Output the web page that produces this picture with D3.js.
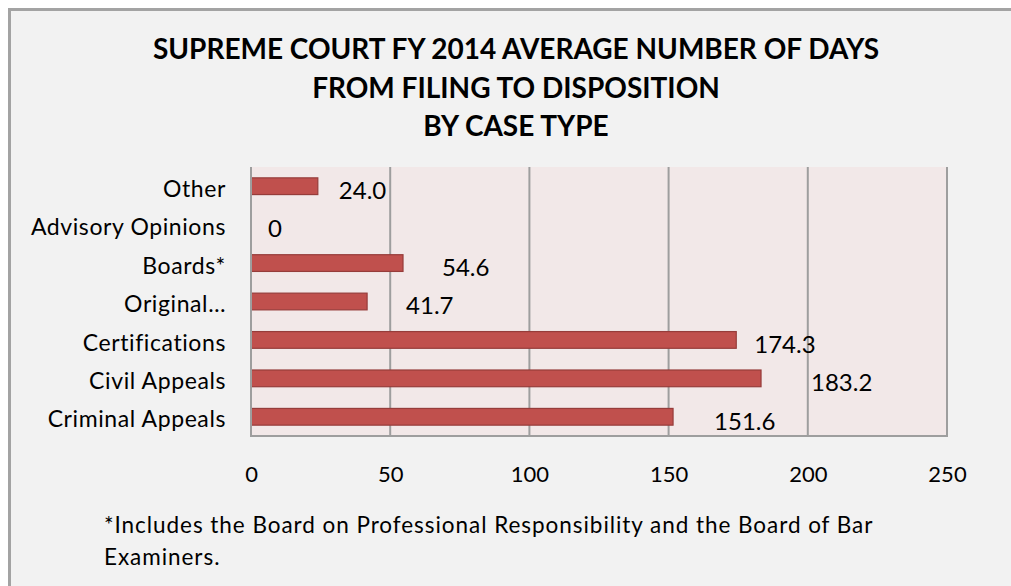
<!DOCTYPE html>
<html>
<head>
<meta charset="utf-8">
<script src="https://cdn.jsdelivr.net/npm/d3@7"></script>
<style>
  html, body { margin: 0; padding: 0; background: #ffffff; }
  svg { display: block; }
</style>
</head>
<body>
<svg id="chart" width="1011" height="586"></svg>
<script>
// ---- data ----
const categories = ["Other", "Advisory Opinions", "Boards*", "Original…", "Certifications", "Civil Appeals", "Criminal Appeals"];
const values = [24.0, 0, 54.6, 41.7, 174.3, 183.2, 151.6];
const valueLabels = ["24.0", "0", "54.6", "41.7", "174.3", "183.2", "151.6"];
const xTicks = [0, 50, 100, 150, 200, 250];
const titleLines = ["SUPREME COURT FY 2014 AVERAGE NUMBER OF DAYS", "FROM FILING TO DISPOSITION", "BY CASE TYPE"];
const footnoteLines = ["*Includes the Board on Professional Responsibility and the Board of Bar", "Examiners."];

// ---- layout (label nudges relative to bar ends, px) ----
const labelGap = [21, 17, 39, 39, 18, 50, 41];

const W = 1011, H = 586;
const plot = { left: 251, right: 947, top: 167, bottom: 436 };
const FONT = "Lato, 'Open Sans', sans-serif";

const svg = d3.select("#chart");

// outer frame
svg.append("rect")
  .attr("x", 9.5).attr("y", 9.5)
  .attr("width", W + 20).attr("height", H + 20)
  .attr("fill", "#f2f2f2")
  .attr("stroke", "#a3a3a3")
  .attr("stroke-width", 3);

// title
const title = svg.append("text")
  .attr("text-anchor", "middle")
  .attr("font-family", FONT)
  .attr("font-weight", "bold")
  .attr("font-size", 28)
  .attr("fill", "#000");
titleLines.forEach((t, i) => {
  title.append("tspan").attr("x", 516).attr("y", 59 + i * 38.5).text(t);
});

// scales
const x = d3.scaleLinear().domain([0, 250]).range([plot.left, plot.right]);
const y = d3.scaleBand().domain(categories).range([plot.top, plot.bottom])
  .paddingInner(0.565).paddingOuter(0.2825);

// plot background
svg.append("rect")
  .attr("x", plot.left).attr("y", plot.top)
  .attr("width", plot.right - plot.left).attr("height", plot.bottom - plot.top)
  .attr("fill", "#f2e8e8");

// gridlines
svg.append("g").selectAll("line")
  .data(xTicks.filter(d => d > 0))
  .join("line")
  .attr("x1", d => x(d)).attr("x2", d => x(d))
  .attr("y1", plot.top).attr("y2", plot.bottom)
  .attr("stroke", "#9e9e9e")
  .attr("stroke-width", 2);

// bars
svg.append("g").selectAll("rect")
  .data(values)
  .join("rect")
  .attr("x", x(0))
  .attr("y", (d, i) => y(categories[i]))
  .attr("width", d => Math.max(0, x(d) - x(0)))
  .attr("height", y.bandwidth())
  .attr("fill", d => d > 0 ? "#c0504d" : "none")
  .attr("stroke", d => d > 0 ? "#963c3a" : "none")
  .attr("stroke-width", 1.2);

// axis lines
svg.append("line")
  .attr("x1", plot.left).attr("x2", plot.left)
  .attr("y1", plot.top).attr("y2", plot.bottom + 1)
  .attr("stroke", "#9e9e9e").attr("stroke-width", 2);
svg.append("line")
  .attr("x1", plot.left - 1).attr("x2", plot.right + 1)
  .attr("y1", plot.bottom).attr("y2", plot.bottom)
  .attr("stroke", "#9e9e9e").attr("stroke-width", 2);

// x axis labels
const xAxis = svg.append("g")
  .attr("transform", `translate(0,${plot.bottom})`)
  .call(d3.axisBottom(x).tickValues(xTicks).tickSize(0).tickPadding(30).tickFormat(d3.format("d")));
xAxis.select(".domain").remove();
xAxis.selectAll("text")
  .attr("font-family", FONT).attr("font-size", 22).attr("fill", "#000");

// y axis labels
const yAxis = svg.append("g")
  .attr("transform", `translate(${plot.left},0)`)
  .call(d3.axisLeft(y).tickSize(0).tickPadding(25));
yAxis.select(".domain").remove();
yAxis.selectAll("text")
  .attr("font-family", FONT).attr("font-size", 23).attr("fill", "#000")
  .attr("letter-spacing", 0.6)
  .attr("dy", "0.46em");

// value labels
svg.append("g").selectAll("text")
  .data(values)
  .join("text")
  .attr("x", (d, i) => x(d) + labelGap[i])
  .attr("y", (d, i) => y(categories[i]) + y.bandwidth() / 2)
  .attr("dy", "0.53em")
  .attr("font-family", FONT).attr("font-size", 24).attr("fill", "#000")
  .text((d, i) => valueLabels[i]);

// footnote
const foot = svg.append("text")
  .attr("font-family", FONT).attr("font-size", 22.5).attr("fill", "#000")
  .attr("letter-spacing", 0.95);
footnoteLines.forEach((t, i) => {
  foot.append("tspan").attr("x", 104).attr("y", 533 + i * 32).text(t);
});
</script>
</body>
</html>
